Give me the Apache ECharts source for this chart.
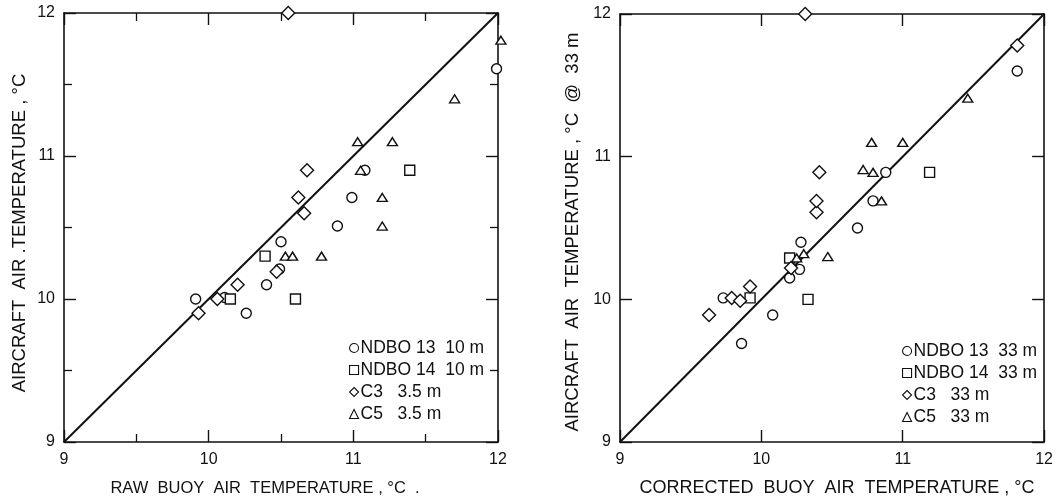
<!DOCTYPE html>
<html>
<head>
<meta charset="utf-8">
<script src="https://cdn.jsdelivr.net/npm/echarts@6/dist/echarts.min.js"></script>
<style>
  html, body { margin: 0; padding: 0; background: #fff; }
  #chart { width: 1056px; height: 503px; }
</style>
</head>
<body>
<div id="chart"></div>
<script>
// Axis range and tick labels (°C)
const axisMin = 9;
const axisMax = 12;
const tickLabels = ['9', '10', '11', '12'];

// Left panel: raw buoy air temperature vs aircraft air temperature
const rawNames = ['NDBO 13  10 m', 'NDBO 14  10 m', 'C3   3.5 m', 'C5   3.5 m'];
const ndbo13Raw = [[9.91, 10.00], [10.26, 9.90], [10.11, 10.01], [10.40, 10.10], [10.49, 10.21],
  [10.50, 10.40], [10.89, 10.51], [10.99, 10.71], [11.08, 10.90], [11.99, 11.61]];
const ndbo14Raw = [[10.15, 10.00], [10.39, 10.30], [10.60, 10.00], [11.39, 10.90]];
const c3Raw = [[10.55, 12.00], [9.93, 9.90], [10.06, 10.00], [10.20, 10.10], [10.47, 10.19],
  [10.62, 10.71], [10.66, 10.60], [10.68, 10.90]];
const c5Raw = [[10.53, 10.30], [10.58, 10.30], [10.78, 10.30], [11.03, 11.10], [11.27, 11.10],
  [11.05, 10.90], [11.20, 10.71], [11.20, 10.51], [11.70, 11.40], [12.02, 11.81]];

// Right panel: corrected buoy air temperature vs aircraft air temperature at 33 m
const corNames = ['NDBO 13  33 m', 'NDBO 14  33 m', 'C3   33 m', 'C5   33 m'];
const ndbo13Cor = [[9.73, 10.01], [9.86, 9.69], [10.08, 9.89], [10.20, 10.15], [10.27, 10.21],
  [10.28, 10.40], [10.68, 10.50], [10.79, 10.69], [10.88, 10.89], [11.81, 11.60]];
const ndbo14Cor = [[9.92, 10.01], [10.20, 10.29], [10.33, 10.00], [11.19, 10.89]];
const c3Cor = [[10.31, 12.00], [9.63, 9.89], [9.79, 10.01], [9.85, 9.99], [9.92, 10.09],
  [10.21, 10.22], [10.39, 10.61], [10.39, 10.69], [10.41, 10.89], [11.81, 11.78]];
const c5Cor = [[10.25, 10.29], [10.30, 10.32], [10.47, 10.30], [10.85, 10.69], [10.72, 10.91],
  [10.79, 10.89], [10.78, 11.10], [11.00, 11.10], [11.46, 11.41]];

// One-to-one reference line
const identity = [[axisMin, axisMin], [axisMax, axisMax]];

const FONT = '"Liberation Sans", Arial, sans-serif';
const INK = '#111';

const diamondPath = 'path://M0,-10L10,0L0,10L-10,0Z';
const shapes = [
  { symbol: 'circle', size: 10 },
  { symbol: 'rect', size: 10 },
  { symbol: diamondPath, size: 13 },
  { symbol: 'triangle', size: [10, 8] }
];

function labelFor(v) {
  const i = Math.round(v - axisMin);
  return Math.abs(v - Math.round(v)) < 1e-6 ? tickLabels[i] : '';
}

function makeAxis(dim, gridIndex, position, showLabels, minor) {
  return {
    type: 'value',
    gridIndex: gridIndex,
    position: position,
    min: axisMin,
    max: axisMax,
    interval: 1,
    splitLine: { show: false },
    axisLine: { show: true, onZero: false, lineStyle: { color: INK, width: 1.6 } },
    axisTick: { show: true, inside: true, length: 12, lineStyle: { color: INK, width: 1.4 } },
    minorTick: { show: minor, splitNumber: 2, length: 8, lineStyle: { color: INK, width: 1.3 } },
    axisLabel: {
      show: showLabels,
      formatter: labelFor,
      color: INK,
      fontFamily: FONT,
      fontSize: 16,
      margin: dim === 'x' ? 10 : 9
    }
  };
}

const xAxes = [
  makeAxis('x', 0, 'bottom', true, true),
  makeAxis('x', 0, 'top', false, true),
  makeAxis('x', 1, 'bottom', true, false),
  makeAxis('x', 1, 'top', false, false)
];
const yAxes = [
  makeAxis('y', 0, 'left', true, true),
  makeAxis('y', 0, 'right', false, true),
  makeAxis('y', 1, 'left', true, false),
  makeAxis('y', 1, 'right', false, false)
];

function pointSeries(name, data, shapeIdx, axisIdx) {
  const s = shapes[shapeIdx];
  return {
    type: 'scatter',
    name: name,
    data: data,
    xAxisIndex: axisIdx,
    yAxisIndex: axisIdx,
    symbol: s.symbol,
    symbolSize: s.size,
    clip: false,
    z: 3,
    itemStyle: { color: '#fff', borderColor: INK, borderWidth: 1.4, opacity: 1 },
    emphasis: { disabled: true }
  };
}

function lineSeries(axisIdx) {
  return {
    type: 'line',
    data: identity,
    xAxisIndex: axisIdx,
    yAxisIndex: axisIdx,
    showSymbol: false,
    symbol: 'none',
    z: 2,
    lineStyle: { color: INK, width: 2 },
    emphasis: { disabled: true }
  };
}

const rawSets = [ndbo13Raw, ndbo14Raw, c3Raw, c5Raw];
const corSets = [ndbo13Cor, ndbo14Cor, c3Cor, c5Cor];

const series = [lineSeries(0), lineSeries(2)];
rawSets.forEach((d, i) => series.push(pointSeries(rawNames[i], d, i, 0)));
corSets.forEach((d, i) => series.push(pointSeries(corNames[i], d, i, 2)));

function legendAt(names, left, top) {
  return {
    data: names,
    orient: 'vertical',
    left: left,
    top: top,
    itemWidth: 9,
    itemHeight: 9,
    itemGap: 4,
    selectedMode: false,
    itemStyle: { borderWidth: 1.1 },
    textStyle: { color: INK, fontFamily: FONT, fontSize: 17.5, padding: [0, 0, 0, -3] }
  };
}

function titleText(text, x, y, rotated, size) {
  return {
    type: 'text',
    x: x,
    y: y,
    rotation: rotated ? Math.PI / 2 : 0,
    style: {
      text: text,
      fill: INK,
      font: size + 'px ' + FONT,
      textAlign: 'center',
      textVerticalAlign: 'middle'
    }
  };
}

const chart = echarts.init(document.getElementById('chart'), null, { renderer: 'canvas' });
chart.setOption({
  backgroundColor: '#fff',
  animation: false,
  grid: [
    { left: 64, top: 13, width: 434, height: 429 },
    { left: 620, top: 14, width: 430, height: 428 }
  ],
  xAxis: xAxes,
  yAxis: yAxes,
  legend: [
    legendAt(rawNames, 344, 334),
    legendAt(corNames, 897, 337)
  ],
  graphic: [
    titleText('RAW  BUOY  AIR  TEMPERATURE , °C  .', 265, 488, false, 16.5),
    titleText('CORRECTED  BUOY  AIR  TEMPERATURE , °C', 837, 488, false, 18),
    titleText('AIRCRAFT  AIR .TEMPERATURE , °C', 20, 233, true, 18.5),
    titleText('AIRCRAFT  AIR  TEMPERATURE , °C  @  33 m', 573, 232, true, 18.5)
  ],
  series: series
});
</script>
</body>
</html>
